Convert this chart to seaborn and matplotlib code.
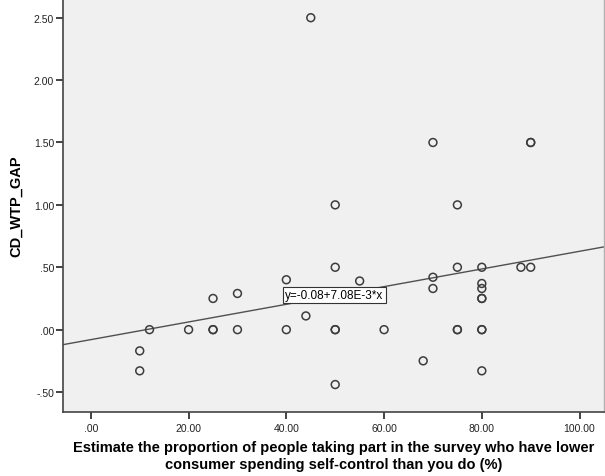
import matplotlib
matplotlib.use("Agg")
import matplotlib.pyplot as plt
import seaborn as sns
import pandas as pd

# Survey responses: estimated share with lower self-control (%) vs. WTP gap
proportion = [45, 70, 90, 90, 50, 75,
              10, 10, 12, 20, 25, 25, 25, 30, 30, 40, 40, 44,
              50, 50, 50, 50, 55, 60, 68, 70, 70,
              75, 75, 75, 80, 80, 80, 80, 80, 80, 80, 80, 88, 90]
wtp_gap = [2.50, 1.50, 1.50, 1.50, 1.00, 1.00,
           -0.17, -0.33, 0.00, 0.00, 0.00, 0.00, 0.25, 0.29, 0.00, 0.40, 0.00, 0.11,
           0.50, 0.00, 0.00, -0.44, 0.39, 0.00, -0.25, 0.42, 0.33,
           0.50, 0.00, 0.00, 0.50, 0.37, 0.33, 0.25, 0.25, 0.00, 0.00, -0.33, 0.50, 0.50]

# Fitted linear regression line
intercept = -0.08
slope = 7.08e-3
fit_label = "y=-0.08+7.08E-3*x"

x_ticks = [0, 20, 40, 60, 80, 100]
x_tick_labels = [".00", "20.00", "40.00", "60.00", "80.00", "100.00"]
y_ticks = [-0.5, 0.0, 0.5, 1.0, 1.5, 2.0, 2.5]
y_tick_labels = ["-.50", ".00", ".50", "1.00", "1.50", "2.00", "2.50"]

x_title = ("Estimate the proportion of people taking part in the survey who have lower\n"
           "consumer spending self-control than you do (%)")
y_title = "CD_WTP_GAP"

sns.set_theme(style="white")
plt.rcParams["font.family"] = ["Liberation Sans", "DejaVu Sans"]

df = pd.DataFrame({"x": proportion, "y": wtp_gap})

fig = plt.figure(figsize=(6.05, 4.77), dpi=100)
ax = fig.add_axes([63 / 605, 64 / 477, 541 / 605, 413 / 477])
ax.set_facecolor("#f0f0f0")

xmin, xmax = -5.7, 105.0
ymin, ymax = -0.66, 2.65

sns.scatterplot(data=df, x="x", y="y", ax=ax, marker="o", s=32,
                facecolor="none", edgecolor="#3c3c3c", linewidth=1.1, zorder=3)

line_df = pd.DataFrame({"x": [xmin, xmax]})
line_df["y"] = intercept + slope * line_df["x"]
sns.lineplot(data=line_df, x="x", y="y", ax=ax, color="#505050", linewidth=1.0, zorder=2)

ax.text(39.75, 0.277, fit_label, fontsize=8.5, color="black", ha="left", va="center",
        zorder=4,
        bbox=dict(boxstyle="square,pad=0.2", facecolor="white", edgecolor="#333333",
                  linewidth=0.8))

ax.set_xlim(xmin, xmax)
ax.set_ylim(ymin, ymax)
ax.set_xticks(x_ticks)
ax.set_xticklabels(x_tick_labels)
ax.set_yticks(y_ticks)
ax.set_yticklabels(y_tick_labels)
ax.tick_params(axis="both", labelsize=7.5, colors="#222222", length=5, width=1.2,
               direction="out")
ax.tick_params(axis="x", pad=3)
ax.tick_params(axis="y", pad=1.5)
ax.xaxis.set_ticks_position("bottom")
ax.yaxis.set_ticks_position("left")

for side in ["left", "bottom"]:
    ax.spines[side].set_color("#444444")
    ax.spines[side].set_linewidth(1.2)
ax.spines["right"].set_color("#b0b0b0")
ax.spines["right"].set_linewidth(1.0)
ax.spines["top"].set_visible(False)

ax.set_xlabel(x_title, fontsize=10.5, fontweight="bold", color="black", labelpad=5,
              linespacing=1.25)
ax.set_ylabel(y_title, fontsize=10.5, fontweight="bold", color="black", labelpad=8)

fig.savefig("out.png", dpi=100, facecolor="white")
